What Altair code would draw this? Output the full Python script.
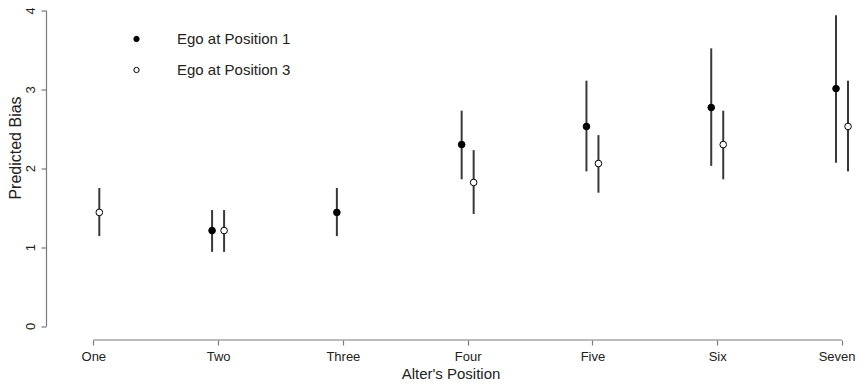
import json
import altair as alt
import pandas as pd

categories = ["One", "Two", "Three", "Four", "Five", "Six", "Seven"]
series_names = ["Ego at Position 1", "Ego at Position 3"]

pos1_est = [None, 1.21, 1.44, 2.30, 2.53, 2.77, 3.01]
pos1_lo = [None, 0.94, 1.14, 1.86, 1.96, 2.03, 2.07]
pos1_hi = [None, 1.47, 1.75, 2.73, 3.11, 3.52, 3.94]

pos3_est = [1.44, 1.21, None, 1.82, 2.06, 2.30, 2.53]
pos3_lo = [1.14, 0.94, None, 1.42, 1.69, 1.86, 1.96]
pos3_hi = [1.75, 1.47, None, 2.23, 2.42, 2.73, 3.11]

y_ticks = [0, 1, 2, 3, 4]

rows = []
for name, est, lo, hi in [
    (series_names[0], pos1_est, pos1_lo, pos1_hi),
    (series_names[1], pos3_est, pos3_lo, pos3_hi),
]:
    for i, cat in enumerate(categories):
        if est[i] is None:
            continue
        rows.append({"pos": i + 1, "cat": cat, "series": name,
                     "est": est[i], "lo": lo[i], "hi": hi[i]})
df = pd.DataFrame(rows)

FONT = "Liberation Sans"
TXT = "#222222"
AX = "#7a7a7a"

label_expr = json.dumps(categories) + "[datum.value - 1]"
x_scale = alt.Scale(domain=[0.621, 7.104], nice=False, zero=False)

x_enc = alt.X(
    "pos:Q",
    scale=x_scale,
    axis=alt.Axis(
        values=list(range(1, len(categories) + 1)),
        labelExpr=label_expr,
        domain=False,
        ticks=True,
        tickSize=5,
        tickColor=AX,
        tickWidth=1.2,
        offset=14,
        grid=False,
        labelFont=FONT,
        labelFontSize=13,
        labelColor=TXT,
        labelPadding=5,
        labelFlush=False,
        labelBound=False,
        labelAlign=alt.ExprRef(f"datum.value == {len(categories)} ? 'right' : 'center'"),
        labelOffset=alt.ExprRef(f"datum.value == {len(categories)} ? 13 : 0"),
        title="Alter's Position",
        titleFont=FONT,
        titleFontSize=15,
        titleFontWeight="normal",
        titleColor=TXT,
        titleBaseline="alphabetic",
        titleY=38,
    ),
)

y_axis = alt.Axis(
    values=y_ticks,
    domainColor=AX,
    domainWidth=1.2,
    tickColor=AX,
    tickWidth=1.2,
    tickSize=5,
    grid=False,
    labelAngle=270,
    labelAlign="center",
    labelBaseline="bottom",
    labelPadding=4,
    labelFont=FONT,
    labelFontSize=13,
    labelColor=TXT,
    title="Predicted Bias",
    titleFont=FONT,
    titleFontSize=16,
    titleFontWeight="normal",
    titleColor=TXT,
    titleAngle=270,
    titleBaseline="alphabetic",
    titleAlign="center",
    titleX=-26,
    titleY=137,
)
y_scale = alt.Scale(domain=[0, 4], nice=False, zero=False)

fill_scale = alt.Scale(domain=series_names, range=["black", "white"])
legend = alt.Legend(
    title=None,
    orient="none",
    legendX=83,
    legendY=21,
    padding=0,
    labelFont=FONT,
    labelFontSize=15,
    labelColor=TXT,
    labelOffset=33,
    symbolSize=28,
    symbolType="circle",
    symbolStrokeColor="black",
    symbolStrokeWidth=1,
    rowPadding=15,
)

offsets = {series_names[0]: -6, series_names[1]: 6}

layers = []
base = alt.Chart(df)
for name in series_names:
    layers.append(
        base.transform_filter(alt.datum.series == name)
        .mark_rule(xOffset=offsets[name], strokeWidth=2, color="#383838")
        .encode(x=x_enc, y=alt.Y("lo:Q", scale=y_scale, axis=y_axis), y2="hi:Q")
    )
for name in series_names:
    layers.append(
        base.transform_filter(alt.datum.series == name)
        .mark_point(xOffset=offsets[name], shape="circle", size=44, stroke="black",
                    strokeWidth=1, opacity=1, filled=False)
        .encode(
            x=x_enc,
            y=alt.Y("est:Q", scale=y_scale, axis=y_axis),
            fill=alt.Fill("series:N", scale=fill_scale, legend=legend),
        )
    )

baseline = alt.Chart(pd.DataFrame({"a": [1], "b": [len(categories)]})).mark_rule(
    color=AX, strokeWidth=1.2
).encode(
    x=alt.X("a:Q", scale=x_scale),
    x2="b:Q",
    y=alt.value(329.5),
)

chart = alt.layer(baseline, *layers).properties(
    width=809,
    height=315.5,
    background="white",
    autosize=alt.AutoSizeParams(type="none"),
    padding={"left": 38, "top": 2.5, "right": 0, "bottom": 56},
).configure_view(stroke=None)

chart.save("out.html", embed_options={"renderer": "svg", "actions": False})
